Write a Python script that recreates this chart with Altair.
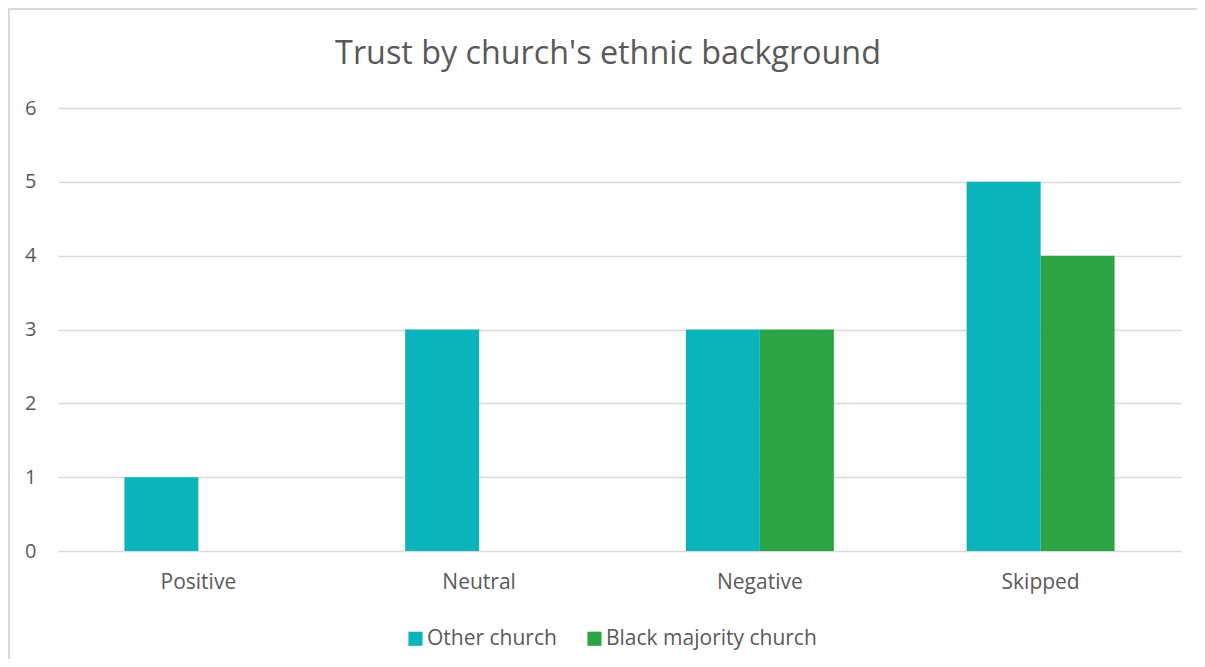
import altair as alt
import pandas as pd

categories = ["Positive", "Neutral", "Negative", "Skipped"]
series = ["Other church", "Black majority church"]
other_church = [1, 3, 3, 5]
black_majority = [0, 0, 3, 4]
colors = ["#0BB3BA", "#2CA443"]
y_ticks = [0, 1, 2, 3, 4, 5, 6]
title_text = "Trust by church's ethnic background"

rows = []
for i, c in enumerate(categories):
    rows.append({"category": c, "series": series[0], "value": other_church[i]})
    rows.append({"category": c, "series": series[1], "value": black_majority[i]})
df = pd.DataFrame(rows)

FONT = "Open Sans"
GREY = "#595959"

bars = alt.Chart(df).mark_bar(stroke=None).encode(
    x=alt.X("category:N", sort=categories,
            scale=alt.Scale(paddingInner=0.473, paddingOuter=0.2365),
            axis=alt.Axis(title=None, labelAngle=0, domain=False, ticks=False,
                          labelPadding=20, labelFontSize=21, labelColor=GREY,
                          labelFont=FONT)),
    xOffset=alt.XOffset("series:N", sort=series, scale=alt.Scale(paddingInner=0, paddingOuter=0)),
    y=alt.Y("value:Q", scale=alt.Scale(domain=[0, 6], nice=False),
            axis=alt.Axis(title=None, values=y_ticks, domain=False, ticks=False,
                          labelPadding=22, labelFontSize=20, labelColor=GREY,
                          labelFont=FONT, gridColor="#d9d9d9", gridWidth=1.6)),
    color=alt.Color("series:N", sort=series,
                    scale=alt.Scale(domain=series, range=colors),
                    legend=alt.Legend(title=None, orient="none", direction="horizontal",
                                      legendX=347, legendY=520, symbolType="square",
                                      symbolSize=200, symbolStrokeWidth=0,
                                      labelFontSize=21, labelColor=GREY, labelFont=FONT,
                                      labelLimit=0, columnPadding=27, labelOffset=1)),
)

border = alt.Chart(pd.DataFrame({"a": [0]})).mark_rect(
    fill=None, stroke="#d9d9d9", strokeWidth=2
).encode(x=alt.value(-49), x2=alt.value(1300), y=alt.value(-99), y2=alt.value(800))

title = alt.Chart(pd.DataFrame({"t": [title_text]})).mark_text(
    font=FONT, fontSize=32.3, color=GREY, align="center", baseline="middle"
).encode(text="t:N", x=alt.value(550), y=alt.value(-54))

chart = alt.layer(border, bars, title).properties(
    width=1123, height=443,
    autosize=alt.AutoSizeParams(type="none"),
    padding={"left": 50, "top": 100, "right": 16, "bottom": 108},
).configure_view(stroke=None).configure_axis(labelFont=FONT)

chart.save("out.html", embed_options={"renderer": "svg", "actions": False})
